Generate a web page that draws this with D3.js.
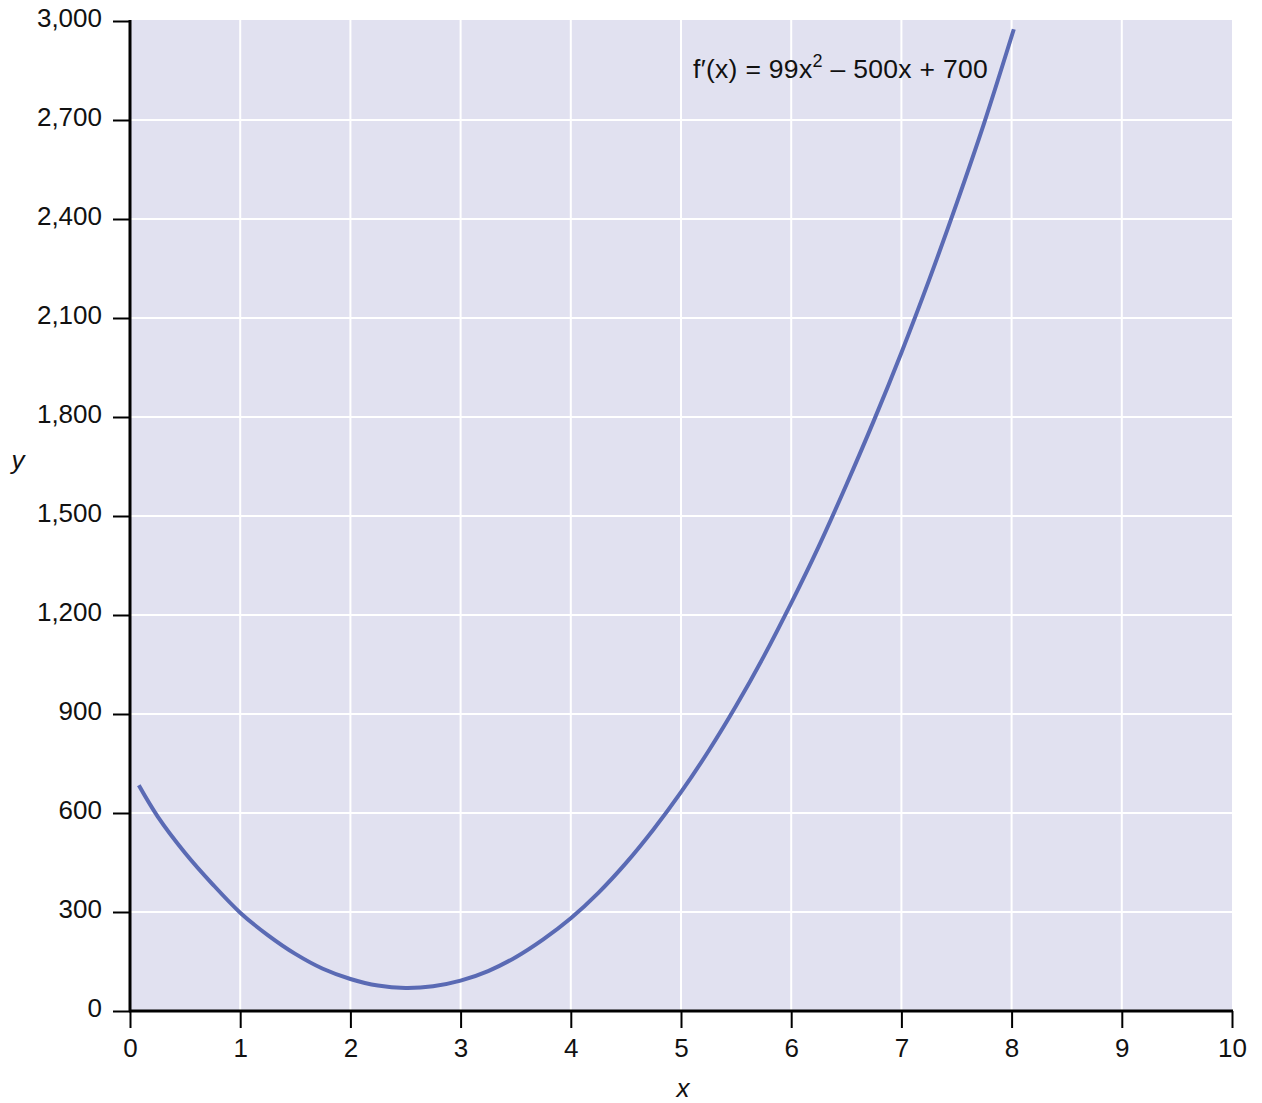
<!DOCTYPE html>
<html lang="en">
<head>
    <meta charset="UTF-8">
    <title>f'(x) = 99x^2 - 500x + 700</title>
    <script src="https://d3js.org/d3.v7.min.js"></script>
    <style>
        body { margin: 0; background: #fff; }
        svg { display: block; font-family: "Liberation Sans", Arial, Helvetica, sans-serif; }
    </style>
</head>
<body>
<script>
    // curve points
    let xVals = [0.08, 0.25, 0.5, 0.75, 1, 1.25, 1.5, 1.75, 2, 2.25, 2.5, 2.75, 3, 3.25, 3.5, 3.75,
                 4, 4.25, 4.5, 4.75, 5, 5.25, 5.5, 5.75, 6, 6.25, 6.5, 6.75, 7, 7.25, 7.5, 7.75, 8.02];
    let yVals = [684, 590, 479, 384, 298, 230, 173, 128, 97, 77, 70, 75, 92, 121, 163, 217,
                 281, 358, 448, 550, 663, 788, 925, 1074, 1236, 1408, 1594, 1789, 1995, 2214, 2446, 2690, 2975];

    let xTicks = [0, 1, 2, 3, 4, 5, 6, 7, 8, 9, 10];
    let yTicks = [0, 300, 600, 900, 1200, 1500, 1800, 2100, 2400, 2700, 3000];

    let width = 1262, height = 1103;
    let margin = { top: 21, right: 30, bottom: 92, left: 130 };

    let svg = d3.select("body").append("svg")
        .attr("width", width)
        .attr("height", height);

    let x = d3.scaleLinear().domain([0, 10]).range([margin.left, width - margin.right]);
    let y = d3.scaleLinear().domain([0, 3000]).range([height - margin.bottom, margin.top]);

    // plot background
    svg.append("rect")
        .attr("x", x(0))
        .attr("y", y(3000) - 1)
        .attr("width", x(10) - x(0))
        .attr("height", y(0) - y(3000) + 1)
        .attr("fill", "#e1e1f0");

    // grid
    svg.append("g").selectAll("line")
        .data(xTicks.slice(1, -1))
        .join("line")
        .attr("x1", d => x(d)).attr("x2", d => x(d))
        .attr("y1", y(3000) - 1).attr("y2", y(0))
        .attr("stroke", "#fff").attr("stroke-width", 2);

    svg.append("g").selectAll("line")
        .data(yTicks.slice(1, -1))
        .join("line")
        .attr("x1", x(0)).attr("x2", x(10))
        .attr("y1", d => y(d)).attr("y2", d => y(d))
        .attr("stroke", "#fff").attr("stroke-width", 2);

    // curve
    let line = d3.line()
        .x((d, i) => x(xVals[i]))
        .y(d => y(d))
        .curve(d3.curveCatmullRom);

    svg.append("path")
        .datum(yVals)
        .attr("d", line)
        .attr("fill", "none")
        .attr("stroke", "#5a6ab4")
        .attr("stroke-width", 4);

    // axes
    let xAxis = d3.axisBottom(x)
        .tickValues(xTicks)
        .tickSize(17)
        .tickPadding(11)
        .tickFormat(d3.format("d"));
    let gx = svg.append("g")
        .attr("transform", `translate(0, ${y(0)})`)
        .call(xAxis);

    let yAxis = d3.axisLeft(y)
        .tickValues(yTicks)
        .tickSize(17)
        .tickPadding(11)
        .tickFormat(d3.format(","));
    let gy = svg.append("g")
        .attr("transform", `translate(${x(0)}, 0)`)
        .call(yAxis);

    [gx, gy].forEach(g => {
        g.select(".domain").remove();
        g.selectAll(".tick line").attr("stroke", "#000").attr("stroke-width", 2);
        g.selectAll(".tick text")
            .attr("fill", "#111")
            .attr("font-size", 26)
            .attr("font-family", "'Liberation Sans', Arial, sans-serif");
    });
    gy.selectAll(".tick text").attr("dy", "0.22em");

    // axis lines
    svg.append("line")
        .attr("x1", x(0)).attr("x2", x(0))
        .attr("y1", y(3000) - 1).attr("y2", y(0) + 1)
        .attr("stroke", "#000").attr("stroke-width", 3);
    svg.append("line")
        .attr("x1", x(0) - 1).attr("x2", x(10) + 1)
        .attr("y1", y(0)).attr("y2", y(0))
        .attr("stroke", "#000").attr("stroke-width", 3);

    // axis titles
    svg.append("text")
        .attr("x", 683).attr("y", 1097)
        .attr("text-anchor", "middle")
        .attr("font-size", 26)
        .attr("font-style", "italic")
        .attr("fill", "#111")
        .text("x");
    svg.append("text")
        .attr("x", 18).attr("y", 469)
        .attr("text-anchor", "middle")
        .attr("font-size", 26)
        .attr("font-style", "italic")
        .attr("fill", "#111")
        .text("y");

    // equation label
    let eq = svg.append("text")
        .attr("x", 693).attr("y", 78)
        .attr("font-size", 26.5)
        .attr("letter-spacing", 0.3)
        .attr("fill", "#111");
    eq.append("tspan").text("f\u2032(x) = 99x");
    eq.append("tspan").attr("font-size", 18).attr("dy", -11).text("2");
    eq.append("tspan").attr("dy", 11).text(" \u2013 500x + 700");
</script>
</body>
</html>
